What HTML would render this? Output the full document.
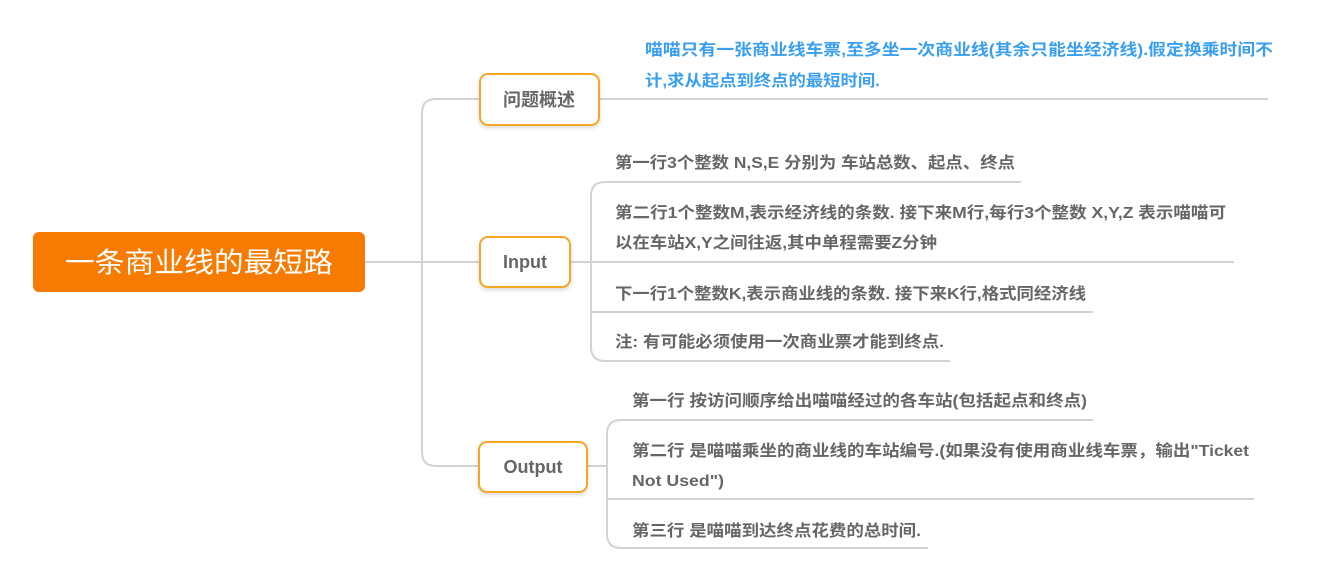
<!DOCTYPE html>
<html><head><meta charset="utf-8"><style>
html,body{margin:0;padding:0;background:#fff;width:1329px;height:566px;overflow:hidden}
svg text{font-family:"Liberation Sans","Noto Sans CJK SC",sans-serif;font-weight:bold}
</style></head><body>
<svg width="1329" height="566" viewBox="0 0 1329 566" xmlns="http://www.w3.org/2000/svg">
<defs><filter id="sh" x="-20%" y="-20%" width="140%" height="150%"><feDropShadow dx="0" dy="2" stdDeviation="2" flood-color="#000" flood-opacity="0.15"/></filter></defs>
<g fill="none" stroke="#d3d3d3" stroke-width="2">
<line x1="365" y1="262" x2="480" y2="262"/>
<path d="M480 99 H436 Q422 99 422 113 V452 Q422 466 436 466 H480"/>
<line x1="599" y1="99" x2="1268" y2="99"/>
<line x1="570" y1="262" x2="591" y2="262"/>
<path d="M1021 182 H605 Q591 182 591 196 V347 Q591 361 605 361 H950"/>
<line x1="591" y1="262" x2="1234" y2="262"/>
<line x1="591" y1="312" x2="1093" y2="312"/>
<line x1="587" y1="466" x2="607" y2="466"/>
<path d="M1093 420 H621 Q607 420 607 434 V534 Q607 548 621 548 H928"/>
<line x1="607" y1="499" x2="1254" y2="499"/>
</g>
<rect x="33" y="232" width="332" height="60" rx="6" fill="#f77b00"/>
<text x="65" y="272" fill="#fff" font-size="28" textLength="268" lengthAdjust="spacingAndGlyphs" style="font-weight:normal">一条商业线的最短路</text>
<g fill="#fff" stroke="#f5a623" stroke-width="2" filter="url(#sh)">
<rect x="480" y="74" width="119" height="51" rx="8"/>
<rect x="480" y="237" width="90" height="50" rx="8"/>
<rect x="479" y="442" width="108" height="50" rx="8"/>
</g>
<g fill="#666" font-size="18" text-anchor="middle">
<text x="539" y="106">问题概述</text>
<text x="525" y="268">Input</text>
<text x="533" y="473">Output</text>
</g>
<g fill="#3a9ff0" font-size="16" lengthAdjust="spacingAndGlyphs">
<text x="645" y="55" textLength="628" lengthAdjust="spacingAndGlyphs">喵喵只有一张商业线车票,至多坐一次商业线(其余只能坐经济线).假定换乘时间不</text>
<text x="645" y="86" textLength="235" lengthAdjust="spacingAndGlyphs">计,求从起点到终点的最短时间.</text>
</g>
<g fill="#666" font-size="16">
<text x="615" y="168" textLength="400" lengthAdjust="spacingAndGlyphs">第一行3个整数 N,S,E 分别为 车站总数、起点、终点</text>
<text x="615" y="218" textLength="611" lengthAdjust="spacingAndGlyphs">第二行1个整数M,表示经济线的条数. 接下来M行,每行3个整数 X,Y,Z 表示喵喵可</text>
<text x="615" y="248" textLength="322" lengthAdjust="spacingAndGlyphs">以在车站X,Y之间往返,其中单程需要Z分钟</text>
<text x="615" y="299" textLength="471" lengthAdjust="spacingAndGlyphs">下一行1个整数K,表示商业线的条数. 接下来K行,格式同经济线</text>
<text x="615" y="347" textLength="329" lengthAdjust="spacingAndGlyphs">注: 有可能必须使用一次商业票才能到终点.</text>
<text x="632" y="406" textLength="455" lengthAdjust="spacingAndGlyphs">第一行 按访问顺序给出喵喵经过的各车站(包括起点和终点)</text>
<text x="632" y="456" textLength="617" lengthAdjust="spacingAndGlyphs">第二行 是喵喵乘坐的商业线的车站编号.(如果没有使用商业线车票，输出"Ticket</text>
<text x="632" y="486" textLength="92" lengthAdjust="spacingAndGlyphs">Not Used")</text>
<text x="632" y="536" textLength="289" lengthAdjust="spacingAndGlyphs">第三行 是喵喵到达终点花费的总时间.</text>
</g>
</svg>
</body></html>
